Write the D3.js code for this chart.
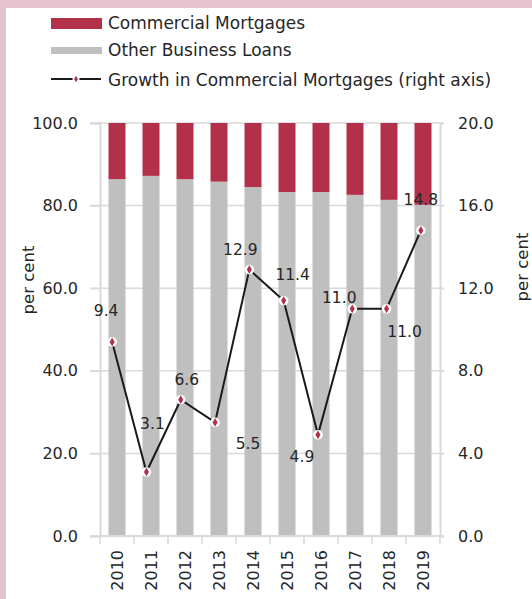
<!DOCTYPE html>
<html>
<head>
<meta charset="utf-8">
<script src="https://cdn.jsdelivr.net/npm/d3@7/dist/d3.min.js"></script>
<style>
  html, body { margin: 0; padding: 0; background: #e4c3cf; }
  svg { display: block; }
  text { font-family: "DejaVu Sans", Verdana, sans-serif; fill: #262626; }
</style>
</head>
<body>
<svg id="chart" width="532" height="599"></svg>
<script>
// Share of business lending (per cent of total) and annual growth of commercial mortgages
const years = ["2010", "2011", "2012", "2013", "2014", "2015", "2016", "2017", "2018", "2019"];
const commercialMortgages = [13.6, 12.8, 13.6, 14.2, 15.5, 16.7, 16.7, 17.4, 18.6, 19.8];
const otherBusinessLoans  = [86.4, 87.2, 86.4, 85.8, 84.5, 83.3, 83.3, 82.6, 81.4, 80.2];
const mortgageGrowth      = [9.4, 3.1, 6.6, 5.5, 12.9, 11.4, 4.9, 11.0, 11.0, 14.8];

const leftTicks  = [0, 20, 40, 60, 80, 100];
const rightTicks = [0, 4, 8, 12, 16, 20];
const legendLabels = ["Commercial Mortgages", "Other Business Loans", "Growth in Commercial Mortgages (right axis)"];
const axisTitle = "per cent";

// Hand-placed value labels: offset of each label from its marker
const labelOffsets = [[-6, -31], [6, -48], [6, -20], [33, 22], [-9, -20], [9, -26], [-16, 22], [-13, -11], [18, 23], [0, -30]];

const RED = "#b3304a", GREY = "#bfbfbf", GRID = "#d9d9d9";
const FONT = "DejaVu Sans, Verdana, sans-serif";
const svg = d3.select("#chart");

// white panel inside the pink frame
svg.append("rect").attr("x", 6).attr("y", 8).attr("width", 526).attr("height", 591).attr("fill", "#ffffff");

const plot = { left: 100, right: 440, top: 123, bottom: 536 };

const x = d3.scaleBand().domain(years).range([plot.left, plot.right]).paddingInner(0.5).paddingOuter(0.25);
const xLine = d3.scaleBand().domain(years).range([plot.left - 5, plot.right - 2]);
const yLeft = d3.scaleLinear().domain([0, 100]).range([plot.bottom, plot.top]);
const yRight = d3.scaleLinear().domain([0, 20]).range([plot.bottom, plot.top]);

// gridlines
svg.append("g").selectAll("line").data(leftTicks).join("line")
  .attr("x1", plot.left - 10).attr("x2", plot.right + 4)
  .attr("y1", d => yLeft(d)).attr("y2", d => yLeft(d))
  .attr("stroke", GRID).attr("stroke-width", 1.5);

// left axis
const leftAxis = svg.append("g").attr("transform", `translate(${plot.left},0)`)
  .call(d3.axisLeft(yLeft).tickValues(leftTicks).tickFormat(d3.format(".1f")).tickSize(10).tickPadding(12));
leftAxis.select(".domain").attr("stroke", GRID).attr("stroke-width", 2);
leftAxis.selectAll(".tick line").attr("stroke", GRID).attr("stroke-width", 1.5);
leftAxis.selectAll(".tick text").attr("font-size", 16).attr("fill", "#262626").attr("font-family", FONT);

// right axis
const rightAxis = svg.append("g").attr("transform", `translate(${plot.right},0)`)
  .call(d3.axisRight(yRight).tickValues(rightTicks).tickFormat(d3.format(".1f")).tickSize(4).tickPadding(14));
rightAxis.select(".domain").attr("stroke", GRID).attr("stroke-width", 2);
rightAxis.selectAll(".tick line").attr("stroke", GRID).attr("stroke-width", 1.5);
rightAxis.selectAll(".tick text").attr("font-size", 16).attr("fill", "#262626").attr("font-family", FONT);

// stacked bars
const bars = svg.append("g");
bars.selectAll("rect.other").data(years).join("rect").attr("class", "other")
  .attr("x", d => x(d)).attr("width", x.bandwidth())
  .attr("y", (d, i) => yLeft(otherBusinessLoans[i]))
  .attr("height", (d, i) => yLeft(0) - yLeft(otherBusinessLoans[i]))
  .attr("fill", GREY);
bars.selectAll("rect.comm").data(years).join("rect").attr("class", "comm")
  .attr("x", d => x(d)).attr("width", x.bandwidth())
  .attr("y", (d, i) => yLeft(otherBusinessLoans[i] + commercialMortgages[i]))
  .attr("height", (d, i) => yLeft(otherBusinessLoans[i]) - yLeft(otherBusinessLoans[i] + commercialMortgages[i]))
  .attr("fill", RED);

// bottom axis with ticks at category boundaries
svg.append("line").attr("x1", plot.left).attr("x2", plot.right)
  .attr("y1", plot.bottom).attr("y2", plot.bottom).attr("stroke", GRID).attr("stroke-width", 2);
const bounds = years.map(d => x(d) - x.step() * x.paddingInner() / 2).concat([plot.right]);
svg.append("g").selectAll("line").data(bounds).join("line")
  .attr("x1", d => d).attr("x2", d => d)
  .attr("y1", plot.bottom).attr("y2", plot.bottom + 8)
  .attr("stroke", GRID).attr("stroke-width", 1.5);
svg.append("g").selectAll("text").data(years).join("text")
  .attr("transform", d => `translate(${x(d) + x.bandwidth() / 2 + 5.5},${plot.bottom + 14}) rotate(-90)`)
  .attr("text-anchor", "end").attr("font-size", 16).text(d => d);

// growth line on the right axis
const pts = years.map((d, i) => [xLine(d) + xLine.bandwidth() / 2, yRight(mortgageGrowth[i])]);
svg.append("path").attr("d", d3.line()(pts))
  .attr("fill", "none").attr("stroke", "#1a1a1a").attr("stroke-width", 2);
const marks = svg.append("g").selectAll("g").data(pts).join("g")
  .attr("transform", d => `translate(${d[0]},${d[1]})`);
marks.append("circle").attr("r", 4.8).attr("fill", "#ffffff");
marks.append("path").attr("d", d3.symbol(d3.symbolDiamond, 22)()).attr("fill", RED);

// value labels
svg.append("g").selectAll("text").data(mortgageGrowth).join("text")
  .attr("x", (d, i) => pts[i][0] + labelOffsets[i][0])
  .attr("y", (d, i) => pts[i][1] + labelOffsets[i][1])
  .attr("text-anchor", "middle").attr("dominant-baseline", "central")
  .attr("font-size", 15.5).attr("fill", "#333333")
  .text(d => d3.format(".1f")(d));

// axis titles
svg.append("text").attr("transform", "translate(28,280) rotate(-90)")
  .attr("text-anchor", "middle").attr("dominant-baseline", "central").attr("font-size", 16.5).text(axisTitle);
svg.append("text").attr("transform", "translate(522,267) rotate(-90)")
  .attr("text-anchor", "middle").attr("dominant-baseline", "central").attr("font-size", 16.5).text(axisTitle);

// legend
const legend = svg.append("g");
legend.append("rect").attr("x", 51).attr("y", 18).attr("width", 51).attr("height", 11).attr("fill", RED);
legend.append("rect").attr("x", 51).attr("y", 47).attr("width", 51).attr("height", 7).attr("fill", GREY);
legend.append("line").attr("x1", 51).attr("x2", 101).attr("y1", 79).attr("y2", 79)
  .attr("stroke", "#1a1a1a").attr("stroke-width", 2);
legend.append("circle").attr("cx", 76).attr("cy", 79).attr("r", 3.5).attr("fill", "#ffffff");
legend.append("path").attr("transform", "translate(76,79)").attr("d", d3.symbol(d3.symbolDiamond, 12)()).attr("fill", RED);
legend.selectAll("text").data(legendLabels).join("text")
  .attr("x", 108).attr("y", (d, i) => [23, 50, 80][i])
  .attr("dominant-baseline", "central").attr("font-size", 17).text(d => d);
</script>
</body>
</html>
